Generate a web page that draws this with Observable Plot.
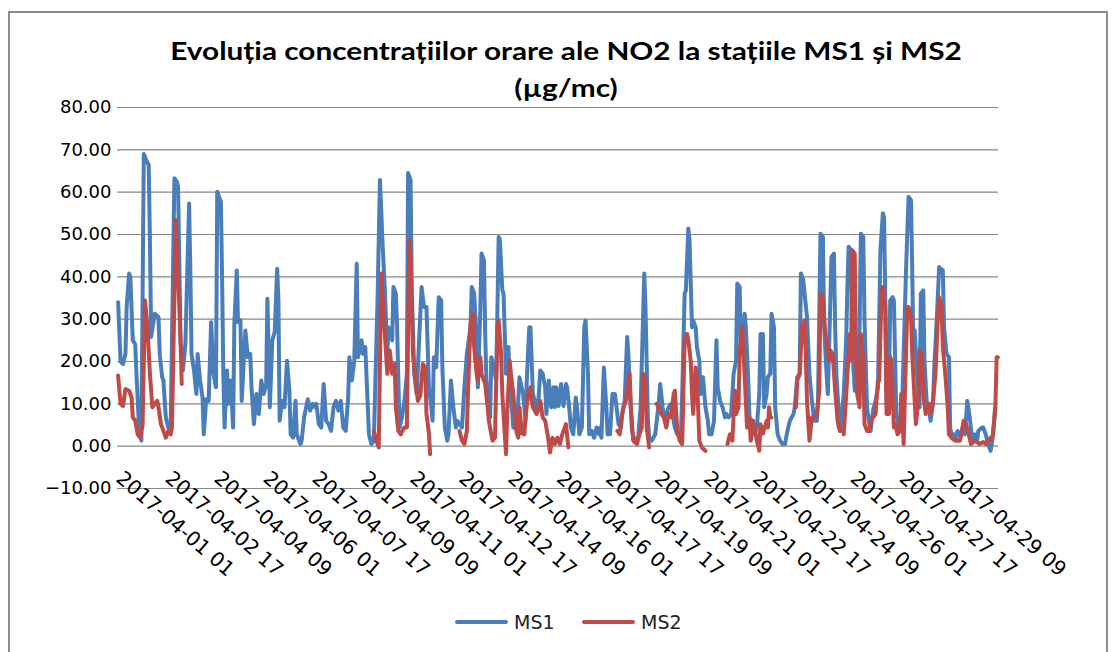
<!DOCTYPE html>
<html>
<head>
<meta charset="utf-8">
<script src="https://cdn.jsdelivr.net/npm/d3@7"></script>
<script src="https://cdn.jsdelivr.net/npm/@observablehq/plot@0.6"></script>
<style>
  body { margin: 0; background: #fff; }
  #wrap { position: relative; width: 1113px; height: 652px; overflow: hidden; background: #fff; }
  #frame { position: absolute; left: 8px; top: 11px; width: 1096px; height: 680px; border: 2px solid #8d8d8d; }
  .title { position: absolute; left: 0; width: 1132px; text-align: center; transform: scaleX(1.19); transform-origin: 566px 0;
           font-family: Lato, "Open Sans", sans-serif; font-weight: bold; font-size: 25px; line-height: 30px; color: #000; white-space: nowrap; }
  #chart { position: absolute; left: 0; top: 0; }
  .lg-line { position: absolute; height: 4px; border-radius: 2px; top: 620px; }
  .lg-text { position: absolute; top: 610px; font-family: "DejaVu Sans", sans-serif; font-size: 19px; color: #222; line-height: 24px; }
</style>
</head>
<body>
<div id="wrap">
  <div id="frame"></div>
  <div class="title" style="top:35px">Evoluția concentrațiilor orare ale NO2 la stațiile MS1 și MS2</div>
  <div class="title" style="top:72px">(µg/mc)</div>
  <div id="chart"></div>
  <div class="lg-line" style="left:455px;width:53px;background:#4a7ebb"></div>
  <div class="lg-text" style="left:514px">MS1</div>
  <div class="lg-line" style="left:582px;width:53px;background:#be4b48"></div>
  <div class="lg-text" style="left:641px">MS2</div>
</div>
<script>
// ---- Data (hour index from 2017-04-01 01, value µg/mc); null = missing ----
const seriesNames = ["MS1", "MS2"];
const seriesColors = ["#4a7ebb", "#be4b48"];

const yTicks = [-10, 0, 10, 20, 30, 40, 50, 60, 70, 80];

const xTickHours = [0, 40, 80, 120, 160, 200, 240, 280, 320, 360, 400, 440, 480, 520, 560, 600, 640, 680];
const xTickLabels = [
  "2017-04-01 01", "2017-04-02 17", "2017-04-04 09", "2017-04-06 01", "2017-04-07 17",
  "2017-04-09 09", "2017-04-11 01", "2017-04-12 17", "2017-04-14 09", "2017-04-16 01",
  "2017-04-17 17", "2017-04-19 09", "2017-04-21 01", "2017-04-22 17", "2017-04-24 09",
  "2017-04-26 01", "2017-04-27 17", "2017-04-29 09"
];

const ms1Points = [
  [0,34],[2,20],[4,19.4],[6,21.8],[7,33],[9,40.8],[10,40],[12,25],[14,24],[15,17],[17,5],[19,1.3],
  [21,69],[23,67.6],[25,66.4],[26,48.7],[27,25.8],[30,31.3],[33,30.5],[34,21.8],[36,16.3],[37,15.5],
  [39,6.8],[41,4.4],[43,5.2],[46,63.3],[48,62.5],[49,61.3],[51,25],[53,17.9],[55,24.2],[58,57.3],
  [59,42.3],[60,21.8],[62,17.9],[64,12.3],[65,21.8],[67,15.5],[69,11.5],[70,2.8],[72,11.1],[74,10.7],
  [76,29.3],[78,17.1],[80,13.9],[81,60.1],[84,57.7],[85,39.2],[86,17.1],[87,4.4],[89,17.9],[90,10],
  [92,15.5],[94,4.4],[95,28.9],[97,41.5],[98,29.3],[100,29.7],[101,10.7],[104,27.3],[106,21],[108,21.8],
  [109,13.9],[111,5.2],[113,12.3],[115,7.6],[117,15.5],[119,12.3],[121,14.7],[122,34.8],[124,9.2],
  [126,25],[128,27],[130,41.9],[131,34.4],[132,6],[134,10.7],[136,9.2],[138,20.2],[140,13.1],[141,2.8],
  [143,2],[145,10.7],[146,2.8],[149,0.5],[150,1.3],[152,6.8],[155,11.1],[157,8.4],[159,10],[161,9.2],
  [162,10],[164,5.2],[166,4.4],[168,14.7],[170,6],[172,5.2],[174,3.6],[176,9.2],[178,10.7],[180,8.4],
  [182,10.7],[184,4.4],[186,3.6],[188,11.5],[189,21],[191,15.5],[193,20.2],[195,43.1],[196,21],[199,25],
  [200,21.8],[202,23.4],[205,2.8],[207,0.5],[209,1.3],[212,34.4],[214,62.9],[216,48.7],[218,36.8],
  [220,21.8],[221,28.1],[224,25],[225,37.6],[227,36],[228,28.1],[230,4.4],[232,6.8],[234,10.7],
  [236,17.1],[237,64.5],[239,62.9],[240,36.8],[242,17.1],[244,12.3],[246,25],[248,37.6],[250,32.9],
  [252,32.9],[254,13.9],[256,9.2],[257,6],[258,21],[260,18.6],[262,35.2],[264,34.4],[265,18.6],
  [267,4.4],[269,1.3],[270,2.8],[272,15.5],[274,9.2],[276,4.4],[277,6],[279,5.2],[281,4.4],[283,13.9],
  [285,21.8],[288,28.1],[289,37.6],[291,36],[293,25],[294,13.9],[296,32],[297,45.5],[299,43.9],
  [300,26.5],[301,15.5],[303,9.2],[304,6.8],[305,21],[307,18.6],[309,15.5],[311,49.4],[312,48.7],
  [314,36.8],[315,36],[317,17.1],[319,23.4],[320,15.5],[323,4.4],[324,6],[326,5.2],[328,16.3],
  [331,12.3],[333,6],[334,15.5],[336,28.1],[337,28.1],[339,12.3],[342,9.2],[343,8.4],[345,17.9],
  [347,17.1],[349,14],[350,7.6],[352,15.5],[354,9.2],[356,13.9],[357,9.2],[358,13.9],[360,9.5],
  [362,14.7],[364,9.5],[366,14.7],[367,13.9],[369,8],[370,4.4],[372,2.8],[374,11.5],[375,9.2],
  [377,2.8],[379,4.4],[381,28.1],[382,29.7],[384,17.1],[385,2.8],[387,3.6],[389,2],[391,4.4],
  [393,2.8],[394,4.4],[395,2],[397,18.6],[399,9.2],[400,2.8],[402,2.8],[404,12.3],[406,12.3],[407,10],
  [409,5.2],[411,4.4],[412,7.6],[414,10.7],[416,25.8],[417,21.8],[419,9.2],[420,3.6],[422,1.3],[425,2],
  [427,9.2],[430,40.8],[431,32.9],[433,6],[434,2],[436,1.3],[439,2.8],[442,10.7],[443,14.7],[445,9.2],
  [446,7],[448,7.6],[450,9.2],[452,10],[454,6],[455,4.4],[457,2.8],[460,2.8],[461,12.3],[463,36],
  [464,36.8],[466,51.4],[467,48.7],[469,28.1],[470,29.7],[472,28.1],[473,23.4],[475,20.2],[476,12.3],
  [478,16.3],[480,9.2],[482,6],[483,2.8],[485,2.8],[487,6],[489,25],[490,13.9],[492,10.7],[494,9.2],
  [496,6.8],[497,7.6],[499,6.8],[501,7.6],[503,17.1],[505,20.2],[506,38.4],[508,37.6],[509,21.8],
  [510,23.4],[512,31.3],[513,28.1],[515,15.5],[516,6.8],[518,6],[520,2.8],[522,4.4],[524,12.3],
  [525,26.5],[527,26.5],[528,9.2],[530,12.3],[531,16.3],[533,17.1],[534,31.3],[536,28.1],[537,9.2],
  [539,2.8],[541,1.3],[543,0.5],[545,0.5],[547,3.6],[549,6],[552,7.6],[553,9.2],[555,16.3],[557,17.1],
  [558,40.8],[560,39.2],[561,36],[563,30.5],[565,17],[567,10.7],[569,6],[571,6],[572,10.7],[574,50.2],
  [576,49.4],[577,28.1],[579,17.1],[580,12.3],[581,22.6],[583,44.7],[585,45.5],[586,28.1],[587,17.1],
  [589,7.6],[590,3.6],[591,6],[593,12.3],[595,25],[596,37.6],[597,47.1],[599,46.3],[600,23.4],
  [602,13.1],[604,13.9],[606,28.1],[607,50.2],[609,49.4],[610,29.7],[612,9.2],[614,5.2],[615,3.6],
  [617,8.4],[619,10.7],[621,13.9],[623,46.3],[625,55],[626,54],[627,34.4],[628,10],[630,13.9],
  [631,34.4],[633,35.2],[634,34.4],[636,7.6],[638,4.4],[639,3.6],[640,4.4],[641,12.3],[643,32],
  [644,42.3],[646,58.9],[648,58.1],[649,41.6],[650,21],[651,27.4],[653,17.1],[655,9.2],[656,36],
  [658,36.8],[659,20.2],[661,9.2],[662,10],[664,6],[666,10],[667,18.6],[669,29.7],[671,42.3],
  [673,41.6],[674,41.6],[675,28.1],[677,21.8],[679,21],[680,4.4],[681,2.8],[683,2.8],[685,2],[686,3.6],
  [688,2.8],[690,3.6],[692,2.8],[694,10.7],[696,6.8],[698,1.3],[700,2.8],[702,1.3],[703,3.6],[706,4.4],
  [707,4.4],[709,2.8],[711,0.5],[713,-1.1],[714,0.5],[715,2.8],[717,9.2]
];

const ms2Points = [
  [0,16.7],[2,10],[4,9.5],[6,13.5],[9,13.1],[11,11.5],[12,6.8],[14,6],[16,2.8],[18,2],[20,5],[22,34.4],
  [24,28.1],[26,17.1],[28,9.2],[30,10],[32,10.7],[33,9.2],[35,5.2],[37,3.6],[39,2],[41,3.6],[43,2.8],
  [44,4.4],[46,35],[47,53.4],[49,40.8],[51,25],[52,14.7],[53,null],
  [209,3.6],[211,1.3],[213,-0.3],[215,40.8],[217,31.3],[219,21.8],[220,17.1],[222,22.6],[224,17.1],
  [226,19.4],[227,9.2],[229,3.6],[231,2.8],[233,4],[234,4.4],[236,4.4],[238,48.7],[239,45.5],[241,21.8],
  [243,15.5],[245,10.7],[247,12],[249,19.4],[251,18.6],[252,7.6],[254,3],[255,-1.9],[256,null],
  [279,3.6],[281,1.3],[283,0.5],[285,3.6],[286,13.1],[288,28.9],[290,31.3],[291,23.4],[293,17.1],
  [294,15.5],[296,21],[297,17],[299,15.5],[300,14.7],[302,9.2],[303,6],[305,2.8],[306,1.3],[308,2],
  [310,28.1],[311,29.7],[313,21.8],[314,12.3],[316,2.8],[317,-1.9],[318,7.6],[320,20.2],[321,17.1],
  [323,12.3],[325,4],[327,2],[328,9.2],[330,3],[332,2.8],[333,6.8],[335,12.3],[337,13.9],[338,10.7],
  [339,9.2],[342,7.6],[344,9.2],[345,10.7],[347,6.8],[349,6],[351,2.8],[353,-1.5],[355,2],[357,0.5],
  [359,2],[361,0.5],[363,2.8],[366,5.2],[368,-0.3],[369,null],
  [408,3.6],[410,2.8],[411,6],[413,9.2],[415,10.7],[418,17.1],[419,9.2],[421,1.3],[424,0.5],[426,2.8],
  [428,4.4],[429,17.1],[431,15.5],[432,4.4],[434,-0.3],[435,null],
  [440,10],[442,9.2],[444,7.6],[446,6.8],[448,4.4],[450,7.6],[452,6.8],[454,12.3],[455,13.1],[457,3.6],
  [459,1.3],[461,0.5],[463,25],[465,26.5],[466,25],[468,20],[469,12.3],[470,7.6],[472,18.6],[473,17.1],
  [475,1.3],[477,-0.3],[480,-1.1],[481,null],
  [498,0.5],[500,2.8],[502,1.3],[504,13.1],[505,7.6],[507,9.2],[508,22.6],[510,28.1],[511,23.4],
  [513,10.7],[514,4.4],[516,6.8],[517,1.3],[519,6],[521,3],[522,1.3],[524,-1.1],[525,5.2],[527,3],
  [528,4],[530,6],[531,4.4],[532,9.2],[533,6.8],[534,6.8],[535,null],
  [554,9.2],[555,15.5],[557,17],[559,28.1],[561,29.7],[562,21.8],[563,10.7],[565,1.3],[567,6.8],
  [569,6.8],[571,7.6],[573,13],[574,36],[576,35.2],[578,26.5],[579,25],[581,20.2],[582,22.6],[584,21.8],
  [586,13.1],[588,6],[589,4.4],[590,3.6],[592,4.4],[593,2.8],[595,12],[598,26.5],[599,20.2],[600,46.3],
  [602,45.5],[603,21.8],[604,12.3],[606,9.2],[607,26.5],[609,20.2],[610,5.2],[612,3.6],[614,3.6],
  [615,6],[617,6.8],[619,7.6],[621,15.5],[622,15.5],[624,36.8],[625,37.6],[627,32.9],[628,7.6],
  [630,7.6],[631,21],[632,20.2],[634,4.4],[635,5.2],[637,2.8],[639,3.6],[640,12.3],[642,0.5],[643,12.3],
  [645,32.9],[646,32.9],[648,30.5],[649,21.8],[651,10.7],[652,5.2],[654,10.7],[655,22.6],[657,21.8],
  [658,12.3],[660,7.6],[661,10],[663,10],[664,7.6],[666,10.7],[668,17.1],[670,30.5],[671,35.2],
  [673,32.9],[674,23.4],[676,17.1],[678,9.2],[679,2.8],[681,2],[684,1.3],[686,1.3],[688,1.3],[689,2.8],
  [691,6],[693,5.2],[695,3],[697,0.5],[700,1.3],[702,1],[704,0.5],[707,1],[709,0.5],[711,1.3],[713,2],
  [714,1.6],[715,2.8],[717,10],[718,21],[719,21]
];

// ---- Build rows for the library ----
const rows = [];
[ms1Points, ms2Points].forEach((pts, si) => {
  pts.forEach(([h, v]) => rows.push({series: seriesNames[si], hour: h, value: v}));
});
const fmt = d3.format(".2f");

const chart = Plot.plot({
  width: 1113,
  height: 600,
  marginLeft: 117,
  marginRight: 115,
  marginTop: 107,
  marginBottom: 112,
  style: {fontFamily: "'DejaVu Sans', sans-serif", fontSize: "18px", background: "transparent", color: "#000"},
  x: {domain: [-0.5, 719.5], axis: null},
  y: {domain: [-10, 80], axis: null},
  color: {domain: seriesNames, range: seriesColors},
  marks: [
    Plot.ruleY(yTicks, {stroke: "#878787", strokeWidth: 1.2}),
    Plot.text(yTicks, {x: -0.5, y: d => d, text: d => fmt(d), textAnchor: "end", dx: -6, fontSize: 18, fill: "#000"}),
    Plot.text(xTickHours, {x: d => d, y: 0, text: (d, i) => xTickLabels[i], rotate: 41, textAnchor: "start",
      lineAnchor: "bottom", dx: -3, dy: 34, fontSize: 20, fill: "#000"}),
    Plot.line(rows.filter(r => r.series === "MS1"), {x: "hour", y: "value", stroke: "series", strokeWidth: 4,
      strokeLinejoin: "round", strokeLinecap: "round"}),
    Plot.line(rows.filter(r => r.series === "MS2"), {x: "hour", y: "value", stroke: "series", strokeWidth: 4,
      strokeLinejoin: "round", strokeLinecap: "round"})
  ]
});
document.getElementById("chart").appendChild(chart);
</script>
</body>
</html>
